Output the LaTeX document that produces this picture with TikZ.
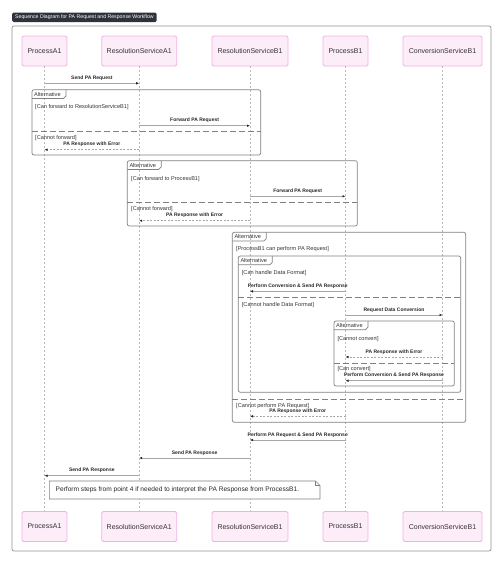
\documentclass[tikz,border=0pt]{standalone}
\usepackage{fontspec}
\setmainfont{Liberation Sans}
\usetikzlibrary{arrows.meta,positioning}

\definecolor{actfill}{HTML}{FDEDF9}
\definecolor{actline}{HTML}{F4B0E4}
\definecolor{titlebg}{HTML}{2E323A}
\definecolor{framegray}{HTML}{808080}

\begin{document}
\begin{tikzpicture}[x=1pt, y=-1pt,
    actor/.style={draw=actline, fill=actfill, line width=0.8pt, rounded corners=1.5pt,
      minimum height=30pt, inner sep=0pt, font=\fontsize{7}{8}\selectfont, text=black!80},
    life/.style={gray!55, line width=0.5pt, dash pattern=on 2pt off 2pt},
    frame/.style={draw=framegray, line width=0.7pt, rounded corners=2pt},
    sep/.style={framegray, line width=0.7pt, dash pattern=on 6pt off 3pt},
    msg/.style={gray!70, line width=0.6pt, -{Latex[length=3pt, width=2.6pt, color=black!85]}},
    reply/.style={msg, dash pattern=on 2pt off 1.5pt},
    lbl/.style={font=\bfseries\fontsize{5}{6}\selectfont, text=black!85, inner sep=0pt, above=2.5pt},
    guard/.style={font=\fontsize{5.6}{6.5}\selectfont, text=black!80, anchor=west, inner sep=0pt}]
  \useasboundingbox (0,0) rectangle (503,563);

  % title and outer frame
  \node[fill=titlebg, rounded corners=1.5pt, text=white, font=\fontsize{5.2}{6}\selectfont,
    anchor=west, minimum height=9.6pt, inner xsep=3pt, inner ysep=0pt] (title) at (12,17.3)
    {Sequence Diagram for PA Request and Response Workflow};
  \draw[frame, draw=gray!85] (12,26) rectangle (491,551);

  % participants and lifelines
  \foreach \n/\x/\w/\t in {pA/44.5/45/ProcessA1, rA/139.2/75/ResolutionServiceA1,
      rB/250/76/ResolutionServiceB1, pB/345.5/45/ProcessB1, cB/442.5/79/ConversionServiceB1} {
    \node[actor, minimum width=\w pt] (\n) at (\x,51) {\t};
    \node[actor, minimum width=\w pt] (\n-end) at (\x,526.5) {\t};
    \draw[life] (\n) -- (\n-end);
  }

  % alternative frames
  \foreach \xa/\ya/\xb/\yb/\ys [count=\i] in {32/89.7/260.7/155/131, 127.3/160.7/357.3/226/202.7,
      232.3/232.3/465.7/422.3/399, 238.3/256/460.7/392.3/297, 334/321/454.3/386/363.3} {
    \draw[frame] (\xa,\ya) rectangle (\xb,\yb);
    \draw[framegray, line width=0.7pt] (\xa,\ya+8.7) -- (\xa+31.5,\ya+8.7) -- (\xa+34,\ya+6.2) -- (\xa+34,\ya);
    \node[guard] (t\i) at (\xa+2,\ya+4.5) {Alternative};
    \draw[sep] (\xa,\ys) -- (\xb,\ys);
  }

  % guards
  \foreach \x/\y/\t [count=\i] in {35/107/{[Can forward to ResolutionServiceB1]}, 35/138.3/{[Cannot forward]},
      131/179/{[Can forward to ProcessB1]}, 131/209/{[Cannot forward]},
      236/249.3/{[ProcessB1 can perform PA Request]}, 236/405.7/{[Cannot perform PA Request]},
      241.7/273.3/{[Can handle Data Format]}, 241.7/305/{[Cannot handle Data Format]},
      337.3/339/{[Cannot convert]}, 337.3/369.3/{[Can convert]}}
    \node[guard] (g\i) at (\x,\y) {\t};

  % messages
  \foreach \a/\b/\y/\t [count=\i] in {pA/rA/83.3/Send PA Request, rA/rB/125.7/Forward PA Request,
      rB/pB/196.3/Forward PA Request, pB/rB/291.3/Perform Conversion \& Send PA Response,
      pB/cB/315/Request Data Conversion, cB/pB/380.7/Perform Conversion \& Send PA Response,
      pB/rB/440/Perform PA Request \& Send PA Response, rB/rA/458/Send PA Response,
      rA/pA/475.7/Send PA Response}
    \draw[msg] (\a |- 0,\y) -- node[lbl] (m\i) {\t} (\b |- 0,\y);

  \foreach \a/\b/\y [count=\i] in {rA/pA/149.7, rB/rA/220.7, cB/pB/357, pB/rB/416.3}
    \draw[reply] (\a |- 0,\y) -- node[lbl] (r\i) {PA Response with Error} (\b |- 0,\y);

  % note
  \draw[framegray, line width=0.6pt, fill=white] (49.3,481) -- (315.5,481) -- (320,485.5)
    -- (320,499) -- (49.3,499) -- cycle;
  \draw[framegray, line width=0.6pt] (315.5,481) -- (315.5,485.5) -- (320,485.5);
  \node[anchor=west, inner sep=0pt, font=\fontsize{6.6}{8}\selectfont, text=black!85] (note) at (55.5,490)
    {Perform steps from point 4 if needed to interpret the PA Response from ProcessB1.};
\end{tikzpicture}
\end{document}
